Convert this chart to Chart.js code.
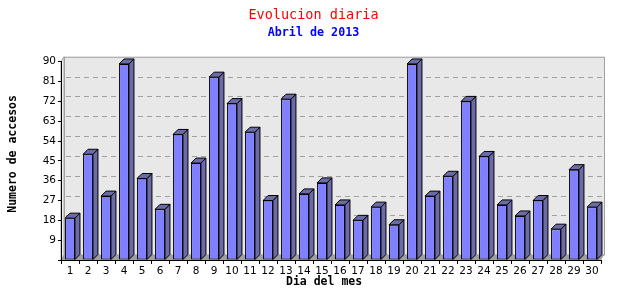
<!DOCTYPE html>
<html>
<head>
<meta charset="utf-8">
<script src="https://cdn.jsdelivr.net/npm/chart.js@4"></script>
<style>
  html, body { margin: 0; padding: 0; background: #fff; }
  #wrap { width: 640px; height: 300px; }
</style>
</head>
<body>
<div id="wrap"><canvas id="chart"></canvas></div>
<script>
const dias = ["1","2","3","4","5","6","7","8","9","10","11","12","13","14","15",
  "16","17","18","19","20","21","22","23","24","25","26","27","28","29","30"];
const accesos = [19, 48, 29, 89, 37, 23, 57, 44, 83, 71, 58, 27, 73, 30, 35,
  25, 18, 24, 16, 89, 29, 38, 72, 47, 25, 20, 27, 14, 41, 24];
const yMax = 90;
const yStep = 9;

// fondo 3D: pared del fondo, suelo y lineas de rejilla
const fondo3d = {
  id: "fondo3d",
  beforeDraw(chart) {
    const { ctx, chartArea: a, scales } = chart;
    const dx = 3, dy = 5;
    ctx.save();
    ctx.fillStyle = "#e8e8e8";
    ctx.fillRect(a.left + dx, a.top - dy, a.right - a.left, a.bottom - a.top);
    // pared izquierda
    ctx.beginPath();
    ctx.moveTo(a.left, a.top);
    ctx.lineTo(a.left + dx, a.top - dy);
    ctx.lineTo(a.left + dx, a.bottom - dy);
    ctx.lineTo(a.left, a.bottom);
    ctx.closePath();
    ctx.fillStyle = "#f0f0f0";
    ctx.fill();
    ctx.strokeStyle = "#a0a0a0";
    ctx.lineWidth = 1;
    ctx.stroke();
    // suelo
    ctx.beginPath();
    ctx.moveTo(a.left, a.bottom);
    ctx.lineTo(a.left + dx, a.bottom - dy);
    ctx.lineTo(a.right + dx, a.bottom - dy);
    ctx.lineTo(a.right, a.bottom);
    ctx.closePath();
    ctx.fillStyle = "#a0a0a0";
    ctx.fill();
    // borde del panel
    ctx.strokeStyle = "#a0a0a0";
    ctx.strokeRect(a.left + dx + 0.5, a.top - dy + 0.5, a.right - a.left, a.bottom - a.top - 0.5);
    // rejilla
    ctx.setLineDash([5, 4]);
    for (let v = yStep; v < yMax; v += yStep) {
      const y = Math.round(scales.y.getPixelForValue(v)) - dy + 0.5;
      ctx.beginPath();
      ctx.moveTo(a.left + dx + 2, y);
      ctx.lineTo(a.right + dx, y);
      ctx.stroke();
    }
    ctx.restore();
  }
};

// caras lateral y superior de cada barra
const barras3d = {
  id: "barras3d",
  afterDatasetsDraw(chart) {
    const { ctx } = chart;
    const d = 5;
    chart.getDatasetMeta(0).data.forEach((bar) => {
      const l = bar.x - bar.width / 2;
      const r = bar.x + bar.width / 2;
      const t = bar.y;
      const b = bar.base;
      ctx.save();
      ctx.fillStyle = "#6b6ba8";
      ctx.strokeStyle = "#000";
      ctx.lineWidth = 1;
      ctx.beginPath();
      ctx.moveTo(r, t);
      ctx.lineTo(r + d, t - d);
      ctx.lineTo(r + d, b - d);
      ctx.lineTo(r, b);
      ctx.closePath();
      ctx.fill();
      ctx.stroke();
      ctx.beginPath();
      ctx.moveTo(l, t);
      ctx.lineTo(l + d, t - d);
      ctx.lineTo(r + d, t - d);
      ctx.lineTo(r, t);
      ctx.closePath();
      ctx.fill();
      ctx.stroke();
      ctx.restore();
    });
  }
};

const mono = "'DejaVu Sans Mono', monospace";

new Chart(document.getElementById("chart"), {
  type: "bar",
  data: {
    labels: dias,
    datasets: [
      {
        label: "Accesos",
        data: accesos,
        backgroundColor: "#8080ff",
        borderColor: "#000",
        borderWidth: 1,
        borderSkipped: false,
        barPercentage: 0.55,
        categoryPercentage: 1,
      },
    ],
  },
  options: {
    responsive: true,
    maintainAspectRatio: false,
    animation: false,
    layout: { padding: { left: 0, right: 13, top: 0, bottom: 0 } },
    plugins: {
      legend: { display: false },
      tooltip: { enabled: false },
      title: {
        display: true,
        text: "Evolucion diaria",
        color: "#ff0000",
        font: { family: mono, size: 13.5, weight: "normal" },
        padding: { top: 7, bottom: 0 },
      },
      subtitle: {
        display: true,
        text: "Abril de 2013",
        color: "#0000ff",
        font: { family: mono, size: 11.7, weight: "bold" },
        padding: { top: 2.5, bottom: 22 },
      },
    },
    scales: {
      x: {
        offset: true,
        grid: {
          offset: true,
          drawOnChartArea: false,
          drawTicks: true,
          tickLength: 4,
          color: "#000",
        },
        border: { display: true, color: "#000" },
        ticks: {
          color: "#000",
          font: { family: "'DejaVu Sans'", size: 10.5 },
          padding: 1,
          maxRotation: 0,
          autoSkip: false,
        },
        title: {
          display: true,
          text: "Dia del mes  ",
          color: "#000",
          font: { family: mono, size: 11.5, weight: "bold" },
          padding: { top: 0, bottom: 11 },
        },
        afterFit(scale) {
          scale.height = 40;
        },
      },
      y: {
        min: 0,
        max: yMax,
        grid: {
          drawOnChartArea: false,
          drawTicks: true,
          tickLength: 3,
          color: "#000",
        },
        border: { display: true, color: "#000" },
        ticks: {
          stepSize: yStep,
          color: "#000",
          font: { family: "'DejaVu Sans'", size: 10.5 },
          padding: 2,
          callback: (v) => (v === 0 ? "" : v),
        },
        title: {
          display: true,
          text: "  Numero de accesos",
          color: "#000",
          font: { family: mono, size: 11.5, weight: "bold" },
          padding: { top: 6, bottom: 0 },
        },
        afterFit(scale) {
          scale.width = 61;
        },
      },
      // eje vacio a la derecha, solo reserva el margen
      margen: {
        type: "linear",
        position: "right",
        display: true,
        grid: { display: false },
        border: { display: false },
        ticks: { display: false },
        afterFit(scale) {
          scale.width = 26;
        },
      },
    },
  },
  plugins: [fondo3d, barras3d],
});
</script>
</body>
</html>
